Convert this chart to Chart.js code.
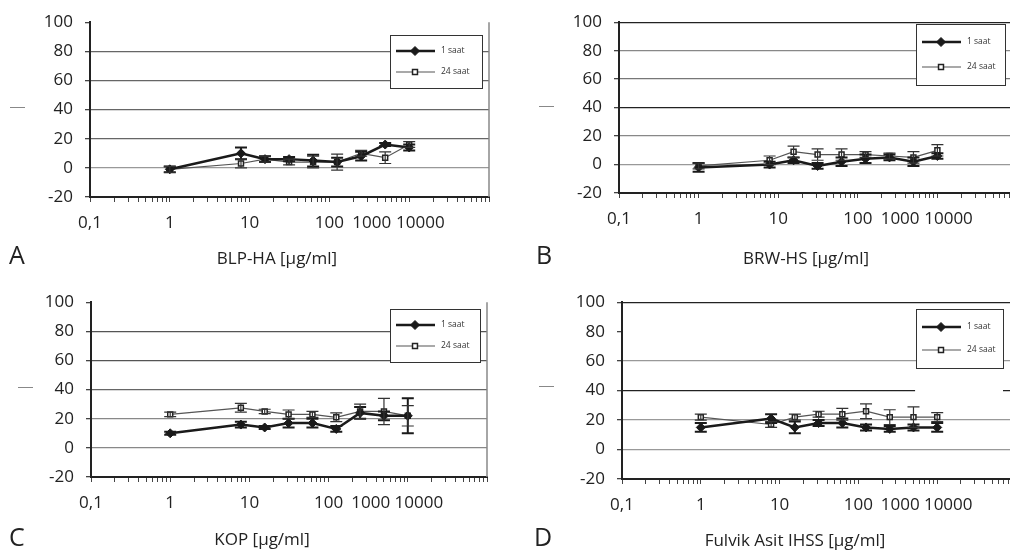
<!DOCTYPE html>
<html>
<head>
<meta charset="utf-8">
<script src="https://cdn.jsdelivr.net/npm/chart.js@4.4.1/dist/chart.umd.min.js"></script>
<style>
  html, body { margin: 0; padding: 0; background: #fff; }
  body { position: relative; width: 1010px; height: 553px; overflow: hidden; font-family: "Open Sans", sans-serif; color: #222; }
  canvas { position: absolute; }
  .letter { position: absolute; font-size: 25px; line-height: 30px; color: #222; }
  .title { position: absolute; font-size: 17px; line-height: 20px; color: #222; transform: translateX(-50%); white-space: nowrap; }
  .dash { position: absolute; width: 15px; height: 1px; background: #888; }
</style>
</head>
<body>
<canvas id="chart-a" width="500" height="280" style="left:0;top:0"></canvas>
<canvas id="chart-b" width="540" height="280" style="left:500px;top:0"></canvas>
<canvas id="chart-c" width="500" height="273" style="left:0;top:280px"></canvas>
<canvas id="chart-d" width="540" height="273" style="left:500px;top:280px"></canvas>

<div class="dash" style="left:10px;top:107px"></div>
<div class="dash" style="left:539px;top:106px"></div>
<div class="dash" style="left:18px;top:387px"></div>
<div class="dash" style="left:539px;top:386px"></div>

<div class="letter" style="left:9px;top:239px">A</div>
<div class="letter" style="left:536px;top:239px">B</div>
<div class="letter" style="left:9px;top:521px">C</div>
<div class="letter" style="left:534px;top:521px">D</div>

<div class="title" style="left:277px;top:248px">BLP-HA [µg/ml]</div>
<div class="title" style="left:806px;top:248px">BRW-HS [µg/ml]</div>
<div class="title" style="left:262px;top:529px">KOP [µg/ml]</div>
<div class="title" style="left:795px;top:530px">Fulvik Asit IHSS [µg/ml]</div>

<script>
// concentrations (µg/ml) shared by all four panels
const concentrations = [1, 7.8, 15.6, 31.25, 62.5, 125, 250, 500, 1000];
const xTickLabels = ['0,1', '1', '10', '100', '1000', '10000'];
const yTicks = [-20, 0, 20, 40, 60, 80, 100];
const seriesNames = ['1 saat', '24 saat'];

// A - BLP-HA
const blpHa1h = [-1, 10, 6, 6, 5, 4, 8, 16, 14];
const blpHa1hErr = [2, 4, 2, 1.5, 4, 3, 3, 1, 2];
const blpHa24h = [-1, 3, 6, 4, 4, 4, 10, 7, 16];
const blpHa24hErr = [2, 3, 2, 2, 4, 5.5, 2, 4, 2];

// B - BRW-HS
const brwHs1h = [-2, 0, 3, -1, 2, 4, 5, 2, 6];
const brwHs1hErr = [3, 2, 2, 2, 3, 3, 2, 3, 2];
const brwHs24h = [-1, 3, 9, 7, 7, 7, 6, 5, 10];
const brwHs24hErr = [2, 3, 4, 4, 4, 2, 2, 4, 4];

// C - KOP
const kop1h = [10, 16, 14, 17, 17, 13, 24, 22, 22];
const kop1hErr = [1, 2, 1, 3, 3, 2, 4, 3, 12];
const kop24h = [23, 27.5, 25, 23, 23, 21, 25, 25, 22];
const kop24hErr = [1.5, 3, 1.5, 3, 2, 3, 5, 9, 7];

// D - Fulvik Asit IHSS
const fulvik1h = [15, 21, 15, 18, 18, 15, 14, 15, 15];
const fulvik1hErr = [3, 3, 4, 2, 3, 2, 2, 2, 3];
const fulvik24h = [22, 17, 22, 24, 24, 26, 22, 22, 22];
const fulvik24hErr = [2, 2, 2, 2, 4, 5, 5, 7, 3];

// where the x labels sit (the 1000 / 10000 labels are shifted left in the original)
const labelAnchors = [0.1, 1, 10, 100, 340, 1380];
const decades = [0.1, 1, 10, 100, 1000, 10000];

function minorTicks() {
    const out = [];
    for (let e = -1; e <= 3; e++) {
        for (let m = 1; m <= 9; m++) out.push(m * Math.pow(10, e));
    }
    out.push(10000);
    return out;
}

const errorBars = {
    id: 'errorBars',
    afterDatasetsDraw(chart) {
        const { ctx, scales: { x, y } } = chart;
        chart.data.datasets.forEach(ds => {
            if (!ds.errors) return;
            ctx.save();
            ctx.strokeStyle = ds.errColor;
            ctx.lineWidth = ds.errWidth;
            ds.data.forEach((p, i) => {
                const px = x.getPixelForValue(p.x);
                const top = y.getPixelForValue(p.y + ds.errors[i]);
                const bot = y.getPixelForValue(p.y - ds.errors[i]);
                const cap = 6;
                ctx.beginPath();
                ctx.moveTo(px, top); ctx.lineTo(px, bot);
                ctx.moveTo(px - cap, top); ctx.lineTo(px + cap, top);
                ctx.moveTo(px - cap, bot); ctx.lineTo(px + cap, bot);
                ctx.stroke();
            });
            ctx.restore();
        });
    }
};

const frameAndLegend = {
    id: 'frameAndLegend',
    afterDraw(chart, args, opts) {
        const ctx = chart.ctx;
        const area = chart.chartArea;
        ctx.save();
        if (opts.rightBorder) {
            ctx.strokeStyle = '#888';
            ctx.lineWidth = 1.5;
            ctx.beginPath();
            ctx.moveTo(area.right, area.top);
            ctx.lineTo(area.right, area.bottom);
            ctx.stroke();
        }
        const b = opts.box;
        ctx.fillStyle = '#fff';
        ctx.fillRect(b.left, b.top, b.width, b.height);
        ctx.strokeStyle = '#333';
        ctx.lineWidth = 1;
        ctx.strokeRect(b.left + 0.5, b.top + 0.5, b.width, b.height);
        chart.data.datasets.forEach((ds, i) => {
            const ry = Math.round(b.top + b.height * (i === 0 ? 0.3 : 0.7));
            const x0 = b.left + 6, x1 = b.left + 45, mx = b.left + 25;
            ctx.strokeStyle = ds.borderColor;
            ctx.lineWidth = ds.borderWidth;
            ctx.beginPath();
            ctx.moveTo(x0, ry); ctx.lineTo(x1, ry);
            ctx.stroke();
            ctx.fillStyle = ds.pointBackgroundColor;
            ctx.strokeStyle = ds.pointBorderColor;
            ctx.lineWidth = ds.pointBorderWidth;
            Chart.helpers.drawPoint(ctx, {
                pointStyle: ds.pointStyle,
                radius: ds.pointRadius,
                rotation: 0,
                borderWidth: ds.pointBorderWidth
            }, mx, ry);
            ctx.fillStyle = '#333';
            ctx.font = '8.5px "Open Sans"';
            ctx.textBaseline = 'middle';
            ctx.fillText(ds.label, b.left + 51, ry);
        });
        ctx.restore();
    }
};

function makeDatasets(v1, e1, v24, e24) {
    return [{
        label: seriesNames[0],
        data: concentrations.map((c, i) => ({ x: c, y: v1[i] })),
        errors: e1,
        errColor: '#1a1a1a',
        errWidth: 2,
        borderColor: '#1a1a1a',
        borderWidth: 2.5,
        pointStyle: 'rectRot',
        pointRadius: 4.5,
        pointBackgroundColor: '#1a1a1a',
        pointBorderColor: '#1a1a1a',
        pointBorderWidth: 1
    }, {
        label: seriesNames[1],
        data: concentrations.map((c, i) => ({ x: c, y: v24[i] })),
        errors: e24,
        errColor: '#333',
        errWidth: 1.2,
        borderColor: '#555',
        borderWidth: 1.2,
        pointStyle: 'rect',
        pointRadius: 3.5,
        pointBackgroundColor: '#fff',
        pointBorderColor: '#222',
        pointBorderWidth: 1.5
    }];
}

function createPanel(id, datasets, p) {
    const ctx = document.getElementById(id).getContext('2d');
    new Chart(ctx, {
        type: 'line',
        data: { datasets: datasets },
        plugins: [errorBars, frameAndLegend],
        options: {
            responsive: false,
            animation: false,
            layout: { padding: p.padding },
            plugins: {
                legend: { display: false },
                tooltip: { enabled: false },
                frameAndLegend: { box: p.box, rightBorder: p.rightBorder }
            },
            scales: {
                x: {
                    type: 'logarithmic',
                    min: 0.1,
                    max: 10000,
                    afterFit: s => { s.height = 42; },
                    afterBuildTicks: s => {
                        const vals = minorTicks().concat(labelAnchors.filter(v => !decades.includes(v)));
                        vals.sort((a, b) => a - b);
                        s.ticks = vals.map(v => ({ value: v }));
                    },
                    border: { color: '#222', width: 2 },
                    grid: {
                        drawOnChartArea: false,
                        tickLength: 5,
                        tickWidth: 1,
                        tickColor: c => (c.tick && !decades.includes(c.tick.value) && labelAnchors.includes(c.tick.value)) ? 'rgba(0,0,0,0)' : '#444'
                    },
                    ticks: {
                        autoSkip: false,
                        maxRotation: 0,
                        padding: 11,
                        color: '#222',
                        font: { family: 'Open Sans', size: 17 },
                        callback: v => {
                            const k = labelAnchors.findIndex(a => Math.abs(a - v) < 1e-9);
                            return k >= 0 ? xTickLabels[k] : '';
                        }
                    }
                },
                y: {
                    min: yTicks[0],
                    max: yTicks[yTicks.length - 1],
                    afterFit: s => { s.width = p.yWidth; },
                    border: { color: '#222', width: 2 },
                    grid: {
                        tickLength: 5,
                        tickColor: '#444',
                        lineWidth: 1.3,
                        color: c => p.gridColor(c)
                    },
                    ticks: {
                        stepSize: 20,
                        padding: 12,
                        color: '#222',
                        font: { family: 'Open Sans', size: 17 }
                    }
                }
            }
        }
    });
}

const gridA = { 100: 'rgba(0,0,0,0)', 80: '#666', 60: '#666', 40: '#666', 20: '#666', 0: '#999', '-20': '#222' };
const gridB = { 100: '#222', 80: '#888', 60: '#777', 40: '#222', 20: '#888', 0: '#999', '-20': '#222' };
const gridC = { 100: 'rgba(0,0,0,0)', 80: '#555', 60: '#555', 40: '#666', 20: '#888', 0: '#888', '-20': '#222' };
const gridD = { 100: '#222', 80: 'rgba(0,0,0,0)', 60: '#999', 40: '#222', 20: '#999', 0: '#999', '-20': '#222' };

createPanel('chart-a', makeDatasets(blpHa1h, blpHa1hErr, blpHa24h, blpHa24hErr), {
    padding: { top: 15, right: 11, bottom: 41, left: 0 },
    yWidth: 90,
    rightBorder: true,
    box: { left: 390, top: 35, width: 92, height: 53 },
    gridColor: c => gridA[c.tick.value]
});

createPanel('chart-b', makeDatasets(brwHs1h, brwHs1hErr, brwHs24h, brwHs24hErr), {
    padding: { top: 15, right: 23, bottom: 45, left: 0 },
    yWidth: 119,
    rightBorder: false,
    box: { left: 416, top: 24, width: 89, height: 61 },
    gridColor: c => gridB[c.tick.value]
});

createPanel('chart-c', makeDatasets(kop1h, kop1hErr, kop24h, kop24hErr), {
    padding: { top: 15, right: 13, bottom: 34, left: 0 },
    yWidth: 91,
    rightBorder: true,
    box: { left: 390, top: 29, width: 90, height: 53 },
    gridColor: c => gridC[c.tick.value]
});

createPanel('chart-d', makeDatasets(fulvik1h, fulvik1hErr, fulvik24h, fulvik24hErr), {
    padding: { top: 18, right: 24, bottom: 32, left: 0 },
    yWidth: 122,
    rightBorder: false,
    box: { left: 416, top: 29, width: 87, height: 59 },
    gridColor: c => {
        const v = c.tick.value;
        const area = c.chart.chartArea;
        if (v === 40 && area) {
            // the 40 line is broken under the legend column in the original
            const g = c.chart.ctx.createLinearGradient(area.left, 0, area.right, 0);
            g.addColorStop(0, '#222');
            g.addColorStop(0.744, '#222');
            g.addColorStop(0.745, 'rgba(0,0,0,0)');
            g.addColorStop(0.966, 'rgba(0,0,0,0)');
            g.addColorStop(0.967, '#222');
            g.addColorStop(1, '#222');
            return g;
        }
        return gridD[v];
    }
});
</script>
</body>
</html>
